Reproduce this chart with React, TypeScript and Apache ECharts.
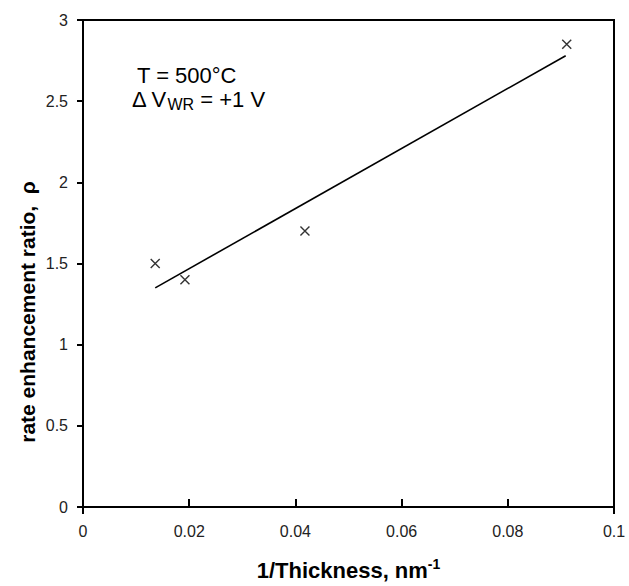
import React, { useEffect, useRef } from "react";
import * as echarts from "echarts";

const inverseThickness = [0.0136, 0.0192, 0.0418, 0.0911];
const ratioValues = [1.5, 1.4, 1.7, 2.85];
const fitX = [0.0136, 0.0909];
const fitY = [1.35, 2.78];
const xTicks = { min: 0, max: 0.1, interval: 0.02 };
const yTicks = { min: 0, max: 3, interval: 0.5 };

const FONT = "'Liberation Sans', Arial, sans-serif";

export default function App() {
  const ref = useRef<HTMLDivElement>(null);
  useEffect(() => {
    if (!ref.current) return;
    const chart = echarts.init(ref.current, null, { renderer: "svg" });
    chart.setOption({
      animation: false,
      backgroundColor: "#fff",
      grid: {
        left: 83,
        right: 15,
        top: 20,
        bottom: 74,
        show: true,
        borderColor: "#000",
        borderWidth: 2,
      },
      xAxis: {
        type: "value",
        ...xTicks,
        name: "1/Thickness, nm{sup|-1}",
        nameLocation: "middle",
        nameGap: 50,
        nameTextStyle: {
          fontFamily: FONT,
          fontSize: 22,
          fontWeight: "bold",
          color: "#000",
          rich: {
            sup: {
              fontFamily: FONT,
              fontSize: 14,
              fontWeight: "bold",
              color: "#000",
              verticalAlign: "top",
              padding: [0, 0, 12, 0],
            },
          },
        },
        axisLine: { show: true, onZero: false, lineStyle: { color: "#000", width: 2 } },
        axisTick: { show: true, inside: true, length: 8, lineStyle: { color: "#000", width: 2 } },
        axisLabel: { margin: 16, fontFamily: FONT, fontSize: 16, color: "#222" },
        splitLine: { show: false },
      },
      yAxis: {
        type: "value",
        ...yTicks,
        axisLine: { show: true, onZero: false, lineStyle: { color: "#000", width: 2 } },
        axisTick: { show: true, inside: false, length: 6, lineStyle: { color: "#000", width: 2 } },
        axisLabel: { margin: 15, fontFamily: FONT, fontSize: 16, color: "#222" },
        splitLine: { show: false },
      },
      graphic: [
        {
          type: "text",
          left: 137,
          top: 64,
          style: { text: "T = 500°C", fontFamily: FONT, fontSize: 22, fill: "#000" },
        },
        {
          type: "text",
          left: 132,
          top: 88,
          style: {
            text: "Δ V{sub|WR} = +1 V",
            fontFamily: FONT,
            fontSize: 22,
            fill: "#000",
            rich: {
              sub: { fontFamily: FONT, fontSize: 16, fill: "#000", verticalAlign: "bottom", padding: [10, 0, 0, 0] },
            },
          },
        },
        {
          type: "text",
          x: 27,
          y: 312,
          rotation: Math.PI / 2,
          style: {
            text: "rate enhancement ratio,  ρ",
            fontFamily: FONT,
            fontSize: 21,
            fontWeight: "bold",
            fill: "#000",
            align: "center",
            verticalAlign: "middle",
          },
        },
      ],
      series: [
        {
          type: "line",
          data: fitX.map((x, i) => [x, fitY[i]]),
          showSymbol: false,
          symbol: "none",
          lineStyle: { color: "#000", width: 1.6 },
          z: 2,
        },
        {
          type: "scatter",
          data: inverseThickness.map((x, i) => [x, ratioValues[i]]),
          symbol: "path://M0,0L10,10M10,0L0,10",
          symbolSize: 9,
          itemStyle: { color: "transparent", borderColor: "#000", borderWidth: 1.4 },
          z: 3,
        },
      ],
    });
    const p0 = chart.convertToPixel({ gridIndex: 0 }, [xTicks.min, yTicks.min]) as number[];
    const p1 = chart.convertToPixel({ gridIndex: 0 }, [xTicks.max, yTicks.min]) as number[];
    chart.setOption({
      graphic: [
        {
          type: "line",
          id: "ovl",
          shape: { x1: p0[0], y1: p0[1], x2: p0[0], y2: p0[1] + 7 },
          style: { stroke: "#000", lineWidth: 2 },
        },
        {
          type: "line",
          id: "ovr",
          shape: { x1: p1[0], y1: p1[1], x2: p1[0], y2: p1[1] + 7 },
          style: { stroke: "#000", lineWidth: 2 },
        },
      ],
    });
    return () => chart.dispose();
  }, []);
  return (
    <div
      ref={ref}
      style={{ position: "absolute", left: 0, top: 0, width: 629, height: 586 }}
    />
  );
}
